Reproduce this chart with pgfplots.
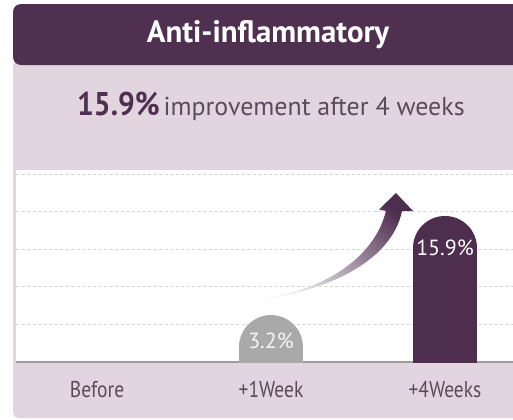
\documentclass[border=0pt]{standalone}
\usepackage{pgfplots}
\pgfplotsset{compat=1.18}
\usepackage{fontspec}
\setmainfont{PT Sans}
\newfontfamily\condfont{PT Sans}[FakeStretch=0.85]
\newfontfamily\semicond{PT Sans}[FakeStretch=0.9]
\definecolor{hdr}{HTML}{4F3050}
\definecolor{panel}{HTML}{E3D5DF}
\definecolor{barp}{HTML}{4E2E4F}
\definecolor{barg}{HTML}{A9A9A9}
\definecolor{txt}{HTML}{5C4A5B}
\definecolor{gridc}{HTML}{D5D5D5}
\definecolor{axisc}{HTML}{9C9C9C}

\pgfplotstableread{
x y
1 3.2
}\weekone
\pgfplotstableread{
x y
2 15.9
}\weekfour

\begin{document}
\begin{tikzpicture}
\useasboundingbox (0,0) rectangle (513bp,-420bp);
\begin{scope}[x=1bp,y=-1bp]
\fill[panel, rounded corners=6bp] (13,60) rectangle (540,418);
\fill[hdr, rounded corners=8bp] (13,4) rectangle (540,65);
\fill[white] (16,170) rectangle (540,362);
\node[text=white, anchor=base, inner sep=0pt, font=\bfseries\fontsize{31}{33}\selectfont] at (268,42.5) {Anti-inflammatory};
\node[anchor=base west, inner sep=0pt, text=txt] at (77,115) {{\color{hdr}\semicond\bfseries\fontsize{33}{35}\selectfont 15.9\%}\hspace{4bp}{\fontsize{26}{28}\selectfont improvement after 4 weeks}};
\end{scope}
\begin{axis}[
  at={(16bp,-362bp)}, anchor=south west,
  scale only axis, width=497bp, height=192bp,
  xmin=-0.466, xmax=2.391, ymin=1.28, ymax=25.9,
  axis lines*=left,
  x axis line style={draw=axisc, line width=1.5bp, -},
  y axis line style={draw=none},
  tick style={draw=none},
  xtick={0,1,2},
  xticklabels={Before,+1Week,+4Weeks},
  xticklabel style={font=\condfont\fontsize{23}{24}\selectfont, text=txt, anchor=base, yshift=-35bp},
  ytick={6.10,10.92,15.74,20.56,25.38},
  yticklabels={},
  ymajorgrids,
  major grid style={gridc, dash pattern=on 3bp off 2.5bp, line width=0.8bp},
  nodes near coords={\pgfmathprintnumber[fixed,precision=1,fixed zerofill,assume math mode=true]{\pgfplotspointmeta}\%},
  every node near coord/.append style={anchor=center, font=\fontsize{22}{23}\selectfont},
]
\addplot[ycomb, draw=barg, line width=64bp, line cap=round, mark=none,
  every node near coord/.append style={text=white!92!gray, yshift=6bp}] table[x=x,y=y] {\weekone};
\addplot[ycomb, draw=barp, line width=64bp, line cap=round, mark=none,
  every node near coord/.append style={text=white}] table[x=x,y=y] {\weekfour};
\end{axis}
\begin{scope}[x=1bp,y=-1bp]
\shade[bottom color=barp!10, top color=barp, shading angle=-40]
  (265,298.5) .. controls (330,288) and (375,255) .. (386,211)
  -- (379,209.5) -- (396,193) -- (413,211) -- (402,211)
  .. controls (392,260) and (330,290) .. cycle;
\end{scope}
\end{tikzpicture}
\end{document}
